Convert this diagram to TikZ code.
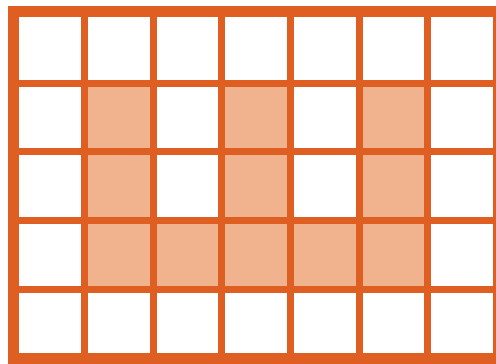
\documentclass[tikz,border=0pt]{standalone}
\usetikzlibrary{positioning}
\definecolor{gridorange}{HTML}{DF5F22}
\definecolor{softorange}{HTML}{F0B38E}

\begin{document}
\begin{tikzpicture}[
  x=1pt, y=-1pt,
  cell/.style={fill=softorange},
  gridline/.style={draw=gridorange, line width=7pt},
  border/.style={draw=gridorange, line width=11pt}
]
\useasboundingbox (0,0) rectangle (496,364);
\clip (0,0) rectangle (496,364);
\fill[white] (0,0) rectangle (496,364);

% shaded cells
\foreach \c/\r in {1/1,3/1,5/1,1/2,3/2,5/2,1/3,2/3,3/3,4/3,5/3}
  \fill[cell] (16+68.6*\c, 14.5+68.7*\r) rectangle ++(68.6,68.7);

% inner grid lines
\foreach \i in {1,...,6}
  \draw[gridline] (16+68.6*\i, 11) -- (16+68.6*\i, 364);
\foreach \j in {1,...,4}
  \draw[gridline] (13, 14.5+68.7*\j) -- (500, 14.5+68.7*\j);

% outer frame
\draw[border] (13,11) rectangle (498.5,358.5);
\end{tikzpicture}
\end{document}
